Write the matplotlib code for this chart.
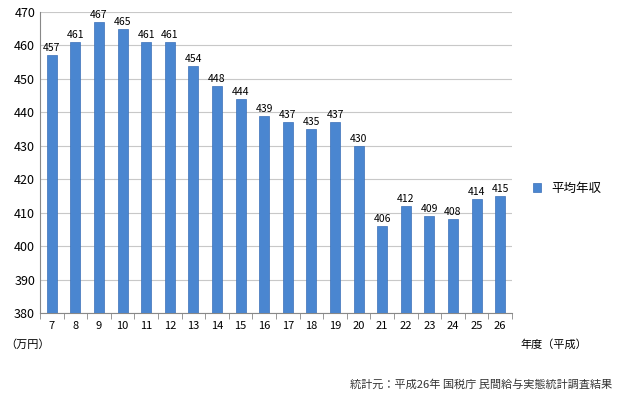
import matplotlib
matplotlib.use("Agg")
import matplotlib.pyplot as plt

plt.rcParams["font.family"] = ["Noto Sans CJK JP"]

years = ["7","8","9","10","11","12","13","14","15","16","17","18","19","20","21","22","23","24","25","26"]
income = [457,461,467,465,461,461,454,448,444,439,437,435,437,430,406,412,409,408,414,415]
series_name = "平均年収"

fig = plt.figure(figsize=(6.18,4.0), dpi=100)
ax = fig.add_axes([40/618, 1-313/400, 472/618, 301/400])
x = list(range(len(years)))
ax.bar(x, [v-380 for v in income], bottom=380, width=0.42, color="#4a86d0", edgecolor="#3a70b8", linewidth=0.5, label=series_name, zorder=3)
for xi, v in zip(x, income):
    ax.text(xi, v+0.6, str(v), ha="center", va="bottom", fontsize=7.5, zorder=4)
ax.set_ylim(380, 470)
ax.set_yticks(range(380, 471, 10))
ax.set_xlim(-0.5, len(years)-0.5)
ax.set_xticks(x)
ax.set_xticklabels(years, fontsize=8)
ax.tick_params(axis="x", length=0, pad=6)
ax.tick_params(axis="y", labelsize=9, length=0)
ax.set_xticks([i+0.5 for i in range(-1, len(years))], minor=True)
ax.tick_params(axis="x", which="minor", length=4, color="#888888")
ax.grid(axis="y", color="#c8c8c8", linewidth=0.8, zorder=0)
for s in ["top","right"]:
    ax.spines[s].set_visible(False)
ax.spines["left"].set_color("#888888")
ax.spines["bottom"].set_color("#888888")
ax.legend(loc="center left", bbox_to_anchor=(1.02, 0.415), frameon=False, fontsize=9, handlelength=0.7, handleheight=0.7)
fig.text(5/618, 1-345/400, "（万円）", fontsize=8, va="center")
fig.text(520/618, 1-345/400, "年度（平成）", fontsize=8, va="center")
fig.text(612/618, 1-385/400, "統計元：平成26年 国税庁 民間給与実態統計調査結果", fontsize=8, ha="right", va="center", color="#333333")
fig.savefig("out.png", dpi=100)
